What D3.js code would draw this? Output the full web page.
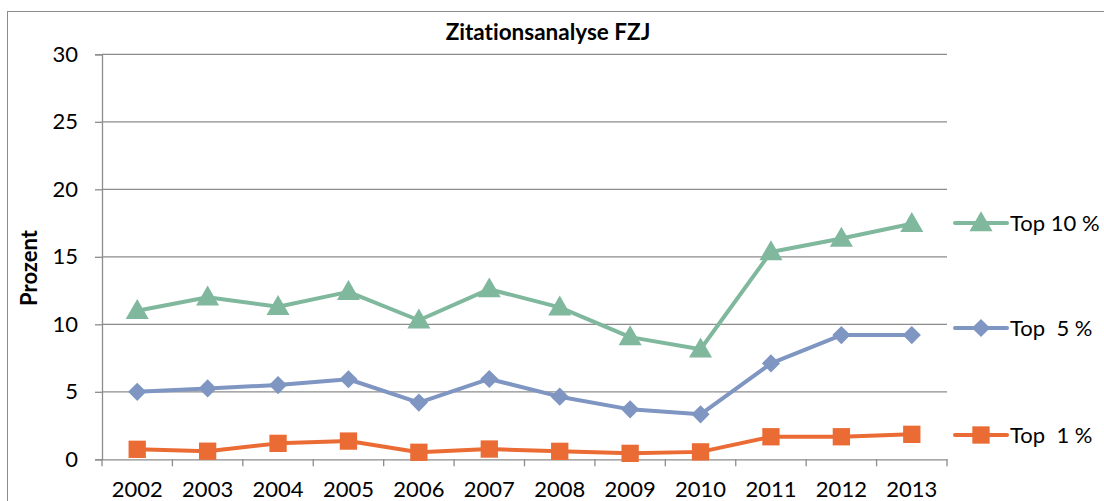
<!DOCTYPE html>
<html><head><meta charset="utf-8">
<script src="https://cdn.jsdelivr.net/npm/d3@7"></script>
<style>html,body{margin:0;padding:0;background:#fff;}svg{display:block;font-family:Lato,"Open Sans",sans-serif;font-variant-ligatures:none;}</style>
</head><body>
<svg id="chart" width="1104" height="501"></svg>
<script>
const years = ["2002","2003","2004","2005","2006","2007","2008","2009","2010","2011","2012","2013"];
const top10 = [11.0, 12.0, 11.3, 12.4, 10.3, 12.6, 11.25, 9.05, 8.15, 15.35, 16.35, 17.45];
const top5  = [5.0, 5.25, 5.5, 5.93, 4.2, 5.95, 4.64, 3.7, 3.33, 7.1, 9.2, 9.2];
const top1  = [0.74, 0.6, 1.18, 1.35, 0.52, 0.76, 0.59, 0.44, 0.55, 1.67, 1.67, 1.85];
const yTicks = [0, 5, 10, 15, 20, 25, 30];
const seriesNames = ["Top 10 %", "Top  5 %", "Top  1 %"];
const colors = ["#80b89e", "#7f95c2", "#eb6b35"];

const svg = d3.select("#chart");
svg.append("rect").attr("x",7.5).attr("y",11.5).attr("width",1120).attr("height",520)
  .attr("fill","none").attr("stroke","#8c8c8c").attr("stroke-width",1);

const L=102, R=947, T=54.3, B=459.3;
const x = d3.scaleBand().domain(years).range([L,R]);
const y = d3.scaleLinear().domain([0,30]).range([B,T]);

svg.append("g").selectAll("line").data(yTicks.filter(d=>d>0)).join("line")
  .attr("x1",L).attr("x2",R).attr("y1",d=>y(d)).attr("y2",d=>y(d))
  .attr("stroke","#8c8c8c").attr("stroke-width",1.3);

const ya = svg.append("g").attr("transform",`translate(${L},0)`)
  .call(d3.axisLeft(y).tickValues(yTicks).tickSize(7).tickPadding(17));
ya.select(".domain").attr("stroke","#8c8c8c").attr("stroke-width",1.3);
ya.selectAll(".tick line").attr("stroke","#8c8c8c").attr("stroke-width",1.3);
ya.selectAll("text").attr("font-size",22).attr("fill","#000").attr("font-family","Lato");

const xa = svg.append("g").attr("transform",`translate(0,${B})`)
  .call(d3.axisBottom(x).tickSize(0).tickPadding(22));
xa.select(".domain").attr("stroke","#8c8c8c").attr("stroke-width",1.3);
xa.selectAll("text").attr("font-size",22).attr("fill","#000").attr("font-family","Lato");
const bounds = years.map(d=>x(d)).concat([R]);
svg.append("g").selectAll("line").data(bounds).join("line")
  .attr("x1",d=>d).attr("x2",d=>d).attr("y1",B).attr("y2",B+7)
  .attr("stroke","#8c8c8c").attr("stroke-width",1.3);

svg.append("text").attr("x",548).attr("y",40).attr("text-anchor","middle")
  .attr("font-size",22.5).attr("font-weight","bold").text("Zitationsanalyse FZJ");
svg.append("text").attr("transform","translate(37,268) rotate(-90)").attr("text-anchor","middle")
  .attr("font-size",22).attr("font-weight","bold").text("Prozent");

const data = [top10, top5, top1];
const symbolPath = [
  d3.symbol().type(d3.symbolTriangle).size(230)(),
  d3.symbol().type(d3.symbolSquare).size(165)(),
  d3.symbol().type(d3.symbolSquare).size(300)()
];
const rot = [0, 45, 0];
const dy = [1.5, 0, 0];
const cx = d => x(d) + x.bandwidth()/2;
const line = d3.line().x((d,i)=>cx(years[i])).y(d=>y(d));
data.forEach((vals,k)=>{
  const g = svg.append("g");
  g.append("path").attr("d",line(vals)).attr("fill","none")
    .attr("stroke",colors[k]).attr("stroke-width",4).attr("stroke-linejoin","round");
  g.selectAll("path.m").data(vals).join("path").attr("class","m")
    .attr("transform",(d,i)=>`translate(${cx(years[i])},${y(d)+dy[k]}) rotate(${rot[k]})`)
    .attr("d",symbolPath[k]).attr("fill",colors[k]);
});

const legY = [223, 328, 435];
seriesNames.forEach((n,k)=>{
  const g = svg.append("g");
  g.append("line").attr("x1",955).attr("x2",1007).attr("y1",legY[k]).attr("y2",legY[k])
    .attr("stroke",colors[k]).attr("stroke-width",4).attr("stroke-linecap","round");
  g.append("path").attr("transform",`translate(981,${legY[k]+dy[k]}) rotate(${rot[k]})`)
    .attr("d",symbolPath[k]).attr("fill",colors[k]);
  g.append("text").attr("x",1010).attr("y",legY[k]).attr("dy","0.36em")
    .attr("font-size",22).style("white-space","pre").text(n);
});
</script>
</body></html>
